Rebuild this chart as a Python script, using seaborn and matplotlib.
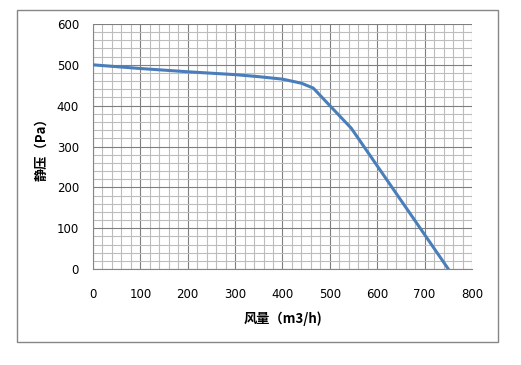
import matplotlib
matplotlib.use("Agg")
import matplotlib.pyplot as plt
import seaborn as sns
import pandas as pd
import numpy as np
from matplotlib.patches import Rectangle
from matplotlib.ticker import MultipleLocator

# fan curve
airflow = [0, 100, 200, 300, 350, 400, 440, 465, 500, 545, 750]
pressure = [500, 491, 483, 476, 471, 465, 455, 443, 400, 345, 0]

x_label = "风量（m3/h)"
y_label = "静压（Pa）"

sns.set_style("white")
plt.rcParams['font.family'] = ['DejaVu Sans']

df = pd.DataFrame({"airflow": airflow, "pressure": pressure})

fig = plt.figure(figsize=(5.21, 3.65), dpi=100)
ax = fig.add_axes([93 / 521, 96 / 365, 379 / 521, 245 / 365])

# grey frame round the whole chart
fig.patches.append(Rectangle((17 / 521, 23 / 365), 481 / 521, 332 / 365,
                             transform=fig.transFigure, fill=False,
                             edgecolor="#868686", linewidth=1.0))

sns.lineplot(data=df, x="airflow", y="pressure", ax=ax, color="#4a7ebb",
             linewidth=2.2, zorder=5)

ax.set_xlim(0, 800)
ax.set_ylim(0, 600)
ax.xaxis.set_major_locator(MultipleLocator(100))
ax.yaxis.set_major_locator(MultipleLocator(100))
ax.xaxis.set_minor_locator(MultipleLocator(20))
ax.yaxis.set_minor_locator(MultipleLocator(20))

ax.grid(which="minor", color="#bdbdbd", linewidth=0.8)
ax.grid(which="major", color="#7f7f7f", linewidth=0.8)
ax.set_axisbelow(True)

for side in ax.spines:
    ax.spines[side].set_visible(False)
ax.spines["left"].set_visible(True)
ax.spines["bottom"].set_visible(True)
ax.spines["left"].set_color("#868686")
ax.spines["bottom"].set_color("#868686")

ax.tick_params(which="major", direction="out", length=4, width=0.8,
               color="#868686", labelsize=8.5, labelcolor="#000000")
ax.tick_params(axis="x", pad=10)
ax.tick_params(axis="y", pad=6)
ax.tick_params(which="minor", length=0)

cjk = ['Noto Sans CJK SC', 'DejaVu Sans']
ax.set_xlabel(x_label, family=cjk, fontsize=9.5, fontweight="bold",
              color="black", labelpad=7)
ax.set_ylabel(y_label, family=cjk, fontsize=9.5, fontweight="bold",
              color="black", labelpad=6)

fig.savefig("out.png", dpi=100)
